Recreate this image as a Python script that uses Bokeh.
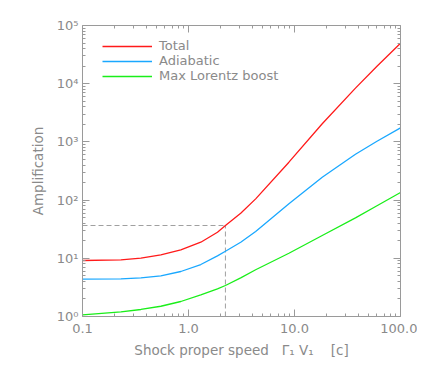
from bokeh.plotting import figure
from bokeh.models import LogAxis, FixedTicker, CustomJSTickFormatter, Range1d
from bokeh.embed import file_html
from bokeh.resources import INLINE

# ---- data ----
speed     = [0.1, 0.2305, 0.3555, 0.5483, 0.8462, 1.306, 1.876, 2.231, 3.108, 4.302, 8.86, 18.27, 37.6, 60.0, 100.0]
total     = [9.17, 9.43, 10.04, 11.48, 14.0, 18.9, 28.1, 36.6, 59.6, 105.0, 448.0, 2048.0, 8400.0, 19950.0, 49700.0]
adiabatic = [4.37, 4.44, 4.62, 5.00, 5.93, 7.82, 11.0, 13.2, 18.9, 28.9, 86.4, 247.0, 615.0, 1028.0, 1746.0]
lorentz   = [1.07, 1.20, 1.32, 1.50, 1.81, 2.36, 2.99, 3.41, 4.62, 6.35, 12.2, 24.6, 49.6, 80.0, 135.0]
mark_speed = 2.23
mark_amp = 36.6

x_ticks = [0.1, 1.0, 10.0, 100.0]
x_minor = [m * d for d in (0.1, 1.0, 10.0) for m in range(2, 10)]
y_ticks = [1, 10, 100, 1000, 10000, 100000]
y_minor = [m * d for d in (1, 10, 100, 1000, 10000) for m in range(2, 10)]

series_names = ["Total", "Adiabatic", "Max Lorentz boost"]
series_colors = ["#ff1a1a", "#1aa8ff", "#1aee1a"]

AX = "#9a9a9a"
TX = "#8a8a8a"
FONT = "DejaVu Sans"
NB = "\u00a0"

p = figure(x_axis_type="log", y_axis_type="log",
           x_range=Range1d(0.1, 100), y_range=Range1d(1, 1e5),
           frame_width=318, frame_height=291,
           min_border_left=82, min_border_right=17,
           min_border_top=25, min_border_bottom=44,
           output_backend="svg", toolbar_location=None)
p.xgrid.visible = False
p.ygrid.visible = False
p.outline_line_color = None
p.background_fill_color = "white"
p.border_fill_color = "white"

xfmt = CustomJSTickFormatter(code="return tick.toFixed(1);")
yfmt = CustomJSTickFormatter(code="""
const sup = {"0":"\u2070","1":"\u00b9","2":"\u00b2","3":"\u00b3","4":"\u2074","5":"\u2075","6":"\u2076","7":"\u2077","8":"\u2078","9":"\u2079","-":"\u207b"};
const e = Math.round(Math.log10(tick));
return "10" + String(e).split("").map(c => sup[c]).join("");
""")
blank = CustomJSTickFormatter(code="return '';")

def style(ax):
    ax.axis_line_color = AX
    ax.axis_line_width = 1
    ax.major_tick_line_color = AX
    ax.minor_tick_line_color = AX
    ax.major_tick_in = 7
    ax.major_tick_out = 0
    ax.minor_tick_in = 3
    ax.minor_tick_out = 0
    ax.major_label_text_color = TX
    ax.major_label_text_font = FONT
    ax.major_label_text_font_size = "13px"
    ax.axis_label_text_color = TX
    ax.axis_label_text_font = FONT
    ax.axis_label_text_font_size = "13.5px"
    ax.axis_label_text_font_style = "normal"

xa = p.xaxis[0]
xa.ticker = FixedTicker(ticks=x_ticks, minor_ticks=x_minor)
xa.formatter = xfmt
style(xa)
xa.major_label_standoff = 7
xa.axis_label = "Shock proper speed " + NB * 2 + "\u0393\u2081 V\u2081 " + NB * 3 + "[c]"
xa.axis_label_standoff = 6

ya = p.yaxis[0]
ya.ticker = FixedTicker(ticks=y_ticks, minor_ticks=y_minor)
ya.formatter = yfmt
style(ya)
ya.major_label_standoff = 4
ya.axis_label = "Amplification"
ya.axis_label_standoff = 8

top = LogAxis(ticker=FixedTicker(ticks=x_ticks, minor_ticks=x_minor), formatter=blank)
style(top)
top.major_label_standoff = 0
p.add_layout(top, "above")
right = LogAxis(ticker=FixedTicker(ticks=y_ticks, minor_ticks=y_minor), formatter=blank)
style(right)
right.major_label_standoff = 0
p.add_layout(right, "right")

# dashed marker
p.line([0.1, mark_speed], [mark_amp, mark_amp], line_color="#a0a0a0", line_width=1, line_dash="5 3")
p.line([mark_speed, mark_speed], [1, mark_amp], line_color="#a0a0a0", line_width=1, line_dash="5 3")

for ys, name, col in zip([total, adiabatic, lorentz], series_names, series_colors):
    p.line(speed, ys, line_color=col, line_width=1.3, legend_label=name)

lg = p.legend[0]
lg.location = (20, 233)
lg.padding = 0
lg.margin = 0
lg.spacing = 0
lg.glyph_width = 50
lg.glyph_height = 14
lg.label_height = 14
lg.label_standoff = 7
lg.label_text_font = FONT
lg.label_text_font_size = "13px"
lg.label_text_color = TX
lg.border_line_color = None
lg.background_fill_alpha = 0

open("out.html", "w").write(file_html(p, INLINE))
